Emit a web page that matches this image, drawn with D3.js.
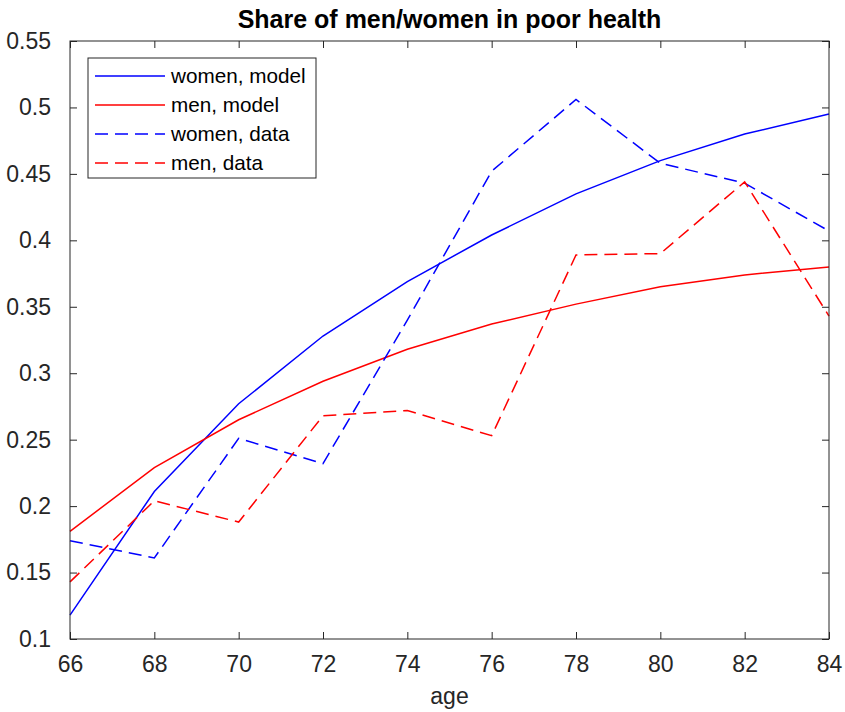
<!DOCTYPE html>
<html>
<head>
<meta charset="utf-8">
<script src="https://cdn.jsdelivr.net/npm/d3@7"></script>
<style>
  body { margin: 0; background: #fff; }
  text { font-family: "Liberation Sans", Arial, sans-serif; fill: #262626; }
</style>
</head>
<body>
<svg id="chart" width="845" height="712"></svg>
<script>
// ages on the x axis
var ages = [66, 68, 70, 72, 74, 76, 78, 80, 82, 84];

// values
var womenModel = [0.118, 0.211, 0.277, 0.328, 0.369, 0.404, 0.435, 0.460, 0.480, 0.495];
var menModel   = [0.181, 0.229, 0.265, 0.294, 0.318, 0.337, 0.352, 0.365, 0.374, 0.380];
var womenData  = [0.174, 0.161, 0.251, 0.232, 0.340, 0.452, 0.506, 0.458, 0.443, 0.407];
var menData    = [0.143, 0.204, 0.188, 0.268, 0.272, 0.253, 0.389, 0.390, 0.444, 0.343];

var xTicks = [66, 68, 70, 72, 74, 76, 78, 80, 82, 84];
var yTicks = [0.1, 0.15, 0.2, 0.25, 0.3, 0.35, 0.4, 0.45, 0.5, 0.55];

var series = [
	{name: "women, model", values: womenModel, color: "#0000ff", dash: null},
	{name: "men, model",   values: menModel,   color: "#ff0000", dash: null},
	{name: "women, data",  values: womenData,  color: "#0000ff", dash: "13,7"},
	{name: "men, data",    values: menData,    color: "#ff0000", dash: "13,7"}
];

// plot box (window.top is taken, so no plain "top")
var pLeft = 70, pRight = 829, pTop = 41, pBottom = 639;
var axisColor = "#262626";
var axisFont = "23px";

var svg = d3.select("#chart");

var x = d3.scaleLinear().domain([66, 84]).range([pLeft, pRight]);
var y = d3.scaleLinear().domain([0.1, 0.55]).range([pBottom, pTop]);

// title
svg.append("text")
	.attr("x", (pLeft + pRight) / 2).attr("y", 28)
	.attr("text-anchor", "middle")
	.style("font-size", "25px").style("font-weight", "bold")
	.style("fill", "#000")
	.text("Share of men/women in poor health");

// lines first, axes box drawn over them
var line = d3.line()
	.x(function (d, i) { return x(ages[i]); })
	.y(function (d) { return y(d); });

series.forEach(function (s) {
	svg.append("path")
		.attr("d", line(s.values))
		.attr("fill", "none")
		.attr("stroke", s.color)
		.attr("stroke-width", 1.5)
		.attr("stroke-dasharray", s.dash);
});

// axes: ticks pointing inward on all four sides
var tickLen = 7;
function styleAxis(g) {
	g.select(".domain").remove();
	g.selectAll("line").attr("stroke", axisColor);
	g.selectAll("text").style("font-size", axisFont).style("fill", axisColor)
		.style("font-family", "'Liberation Sans', Arial, sans-serif");
}

svg.append("g").attr("transform", "translate(0," + pBottom + ")")
	.call(d3.axisBottom(x).tickValues(xTicks).tickSize(-tickLen).tickPadding(17))
	.call(styleAxis);
svg.append("g").attr("transform", "translate(0," + pTop + ")")
	.call(d3.axisTop(x).tickValues(xTicks).tickSize(-tickLen).tickFormat(""))
	.call(styleAxis);
svg.append("g").attr("transform", "translate(" + pLeft + ",0)")
	.call(d3.axisLeft(y).tickValues(yTicks).tickSize(-tickLen).tickPadding(19)
		.tickFormat(function (d) { return String(+d.toFixed(2)); }))
	.call(styleAxis);
svg.append("g").attr("transform", "translate(" + pRight + ",0)")
	.call(d3.axisRight(y).tickValues(yTicks).tickSize(-tickLen).tickFormat(""))
	.call(styleAxis);

svg.append("rect")
	.attr("x", pLeft).attr("y", pTop)
	.attr("width", pRight - pLeft).attr("height", pBottom - pTop)
	.attr("fill", "none").attr("stroke", axisColor).attr("stroke-width", 1);

// x label
svg.append("text")
	.attr("x", (pLeft + pRight) / 2).attr("y", 704)
	.attr("text-anchor", "middle")
	.style("font-size", axisFont)
	.text("age");

// legend
var legend = svg.append("g");
legend.append("rect")
	.attr("x", 88).attr("y", 58).attr("width", 228).attr("height", 120)
	.attr("fill", "#fff").attr("stroke", axisColor).attr("stroke-width", 1);

series.forEach(function (s, i) {
	var ly = 76 + i * 29;
	legend.append("line")
		.attr("x1", 95).attr("x2", 165).attr("y1", ly).attr("y2", ly)
		.attr("stroke", s.color).attr("stroke-width", 1.5)
		.attr("stroke-dasharray", s.dash);
	legend.append("text")
		.attr("x", 171).attr("y", ly + 7)
		.style("font-size", "20.7px").style("fill", "#000")
		.text(s.name);
});
</script>
</body>
</html>
